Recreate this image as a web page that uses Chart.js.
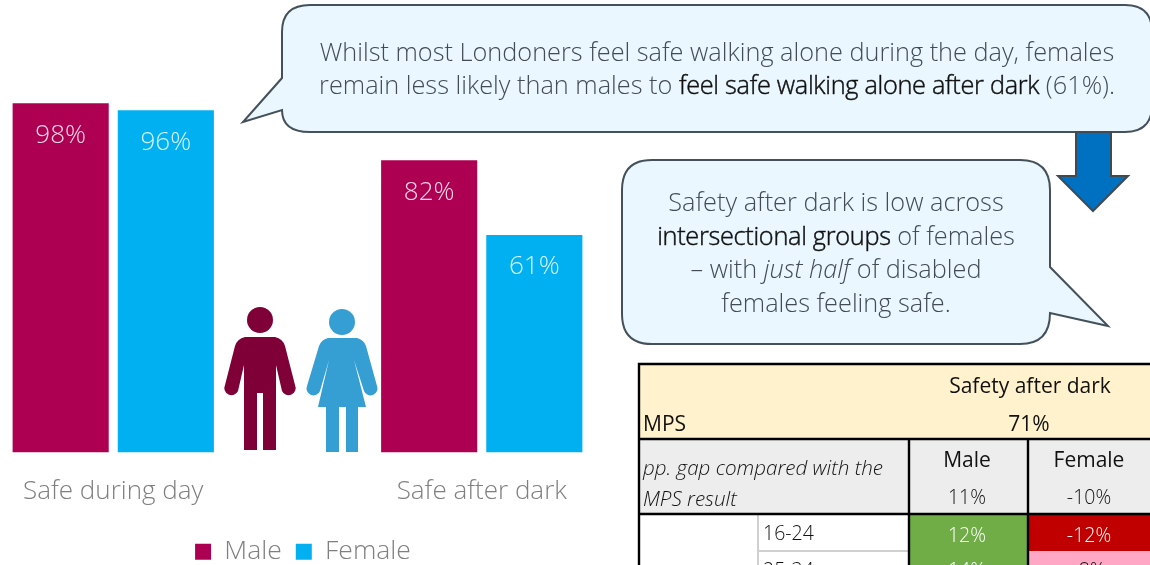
<!DOCTYPE html>
<html>
<head>
<meta charset="utf-8">
<script src="https://cdn.jsdelivr.net/npm/chart.js@4/dist/chart.umd.min.js"></script>
<style>
    html, body { margin: 0; padding: 0; width: 1150px; height: 565px; overflow: hidden; background: #fff; }
    #chartBox { position: absolute; left: -71px; top: 0; width: 748px; height: 575px; }
    svg { position: absolute; left: 0; top: 0; }
    svg text { font-family: "Open Sans", sans-serif; }
    .note { font-size: 25.3px; font-weight: 300; fill: #434c55; text-anchor: middle; }
    .note tspan.strong { fill: #111; stroke: #111; stroke-width: 0.45px; letter-spacing: -0.3px; }
    .cell { font-size: 21px; fill: #111; text-anchor: middle; font-weight: 400; }
    .soft { font-size: 19.5px; font-weight: 300; }
    .pp { font-size: 20.6px; font-weight: 300; font-style: italic; text-anchor: start; }
</style>
</head>
<body>
<div id="chartBox"><canvas id="myChart"></canvas></div>
<svg width="1150" height="565" xmlns="http://www.w3.org/2000/svg">
    <!-- figures -->
    <g fill="#7f0037">
        <circle cx="260" cy="320" r="13"/>
        <path d="M245 337 L275 337 Q283 339 285 346 L295 385 A6.5 6.5 0 0 1 282 391 L276 365 L276 450 L263 450 L263 393 L257 393 L257 450 L244 450 L244 365 L238 391 A6.5 6.5 0 0 1 225 385 L235 346 Q237 339 245 337 Z"/>
    </g>
    <g fill="#359fd3">
        <circle cx="342" cy="322" r="13"/>
        <path d="M328 338 L357 338 Q364 340 366 346 L377 386 A6.5 6.5 0 0 1 364 391 L354 360 L366 407 L358 407 L358 452 L346 452 L346 407 L339 407 L339 452 L326 452 L326 407 L318 407 L329 360 L320 391 A6.5 6.5 0 0 1 307 386 L319 346 Q321 340 328 338 Z"/>
    </g>
    <!-- callouts -->
    <path d="M310 5 H1125 Q1152 5 1152 32 V105 Q1152 132 1125 132 H310 Q282 132 282 110 L243 122 L282 78 V32 Q282 5 310 5 Z" fill="#eaf7fe" stroke="#44505a" stroke-width="2"/>
    <text class="note" x="717" y="61">Whilst most Londoners feel safe walking alone during the day, females</text>
    <text class="note" x="717" y="94">remain less likely than males to <tspan class="strong">feel safe walking alone after dark</tspan> (61%).</text>
    <path d="M1076 132 H1111 V176 H1128 L1093 211 L1058 176 H1076 Z" fill="#0070c0" stroke="#404a52" stroke-width="2"/>
    <path d="M652 160 H1020 Q1050 160 1050 190 V267 L1108 326 L1050 313 Q1050 344 1020 344 H652 Q622 344 622 314 V190 Q622 160 652 160 Z" fill="#eaf7fe" stroke="#44505a" stroke-width="2"/>
    <text class="note" x="836" y="211">Safety after dark is low across</text>
    <text class="note" x="836" y="245"><tspan class="strong">intersectional groups</tspan> of females</text>
    <text class="note" x="836" y="278">– with <tspan font-style="italic">just half</tspan> of disabled</text>
    <text class="note" x="836" y="312">females feeling safe.</text>
    <!-- table -->
    <rect x="639" y="364" width="512" height="75" fill="#fff2cc"/>
    <rect x="639" y="439" width="512" height="75" fill="#ededed"/>
    <rect x="639" y="514" width="512" height="52" fill="#fff"/>
    <rect x="909" y="514" width="119" height="52" fill="#70ad47"/>
    <rect x="1028" y="514" width="123" height="37" fill="#c00000"/>
    <rect x="1028" y="551" width="123" height="15" fill="#ffa7c4"/>
    <path d="M758 514 V566 M758 551 H909" stroke="#d0d0d0" stroke-width="2" fill="none"/>
    <path d="M639 566 V364 H1151 M639 439 H1151 M639 514 H1151 M909 439 V566 M1028 439 V566" stroke="#000" stroke-width="2.4" fill="none"/>
    <text class="cell" x="1030" y="393">Safety after dark</text>
    <text class="cell" x="643" y="431" style="text-anchor:start">MPS</text>
    <text class="cell" x="1029" y="431">71%</text>
    <text class="cell" x="967" y="467">Male</text>
    <text class="cell" x="1089" y="467">Female</text>
    <text class="cell pp" x="643" y="475">pp. gap compared with the</text>
    <text class="cell pp" x="643" y="506">MPS result</text>
    <text class="cell soft" x="967" y="504">11%</text>
    <text class="cell soft" x="1089" y="504">-10%</text>
    <text class="cell soft" x="763" y="540" style="text-anchor:start">16-24</text>
    <text class="cell soft" x="967" y="542" style="fill:#fff">12%</text>
    <text class="cell soft" x="1089" y="542" style="fill:#fff">-12%</text>
    <text class="cell soft" x="763" y="577" style="text-anchor:start">25-34</text>
    <text class="cell soft" x="967" y="577" style="fill:#fff">14%</text>
    <text class="cell soft" x="1089" y="577">-8%</text>
</svg>
<script>
const categories = ['Safe during day', 'Safe after dark'];
const maleValues = [98, 82];
const femaleValues = [96, 61];

// values written inside the top of each bar
const barLabels = {
    id: 'barLabels',
    afterDatasetsDraw(chart) {
        const { ctx } = chart;
        ctx.save();
        ctx.font = '300 26px "Open Sans"';
        ctx.fillStyle = 'rgba(255, 255, 255, 0.85)';
        ctx.textAlign = 'center';
        ctx.textBaseline = 'middle';
        chart.data.datasets.forEach((ds, i) => {
            chart.getDatasetMeta(i).data.forEach((bar, j) => {
                ctx.fillText(ds.data[j] + '%', bar.x, bar.y + 32);
            });
        });
        ctx.restore();
    }
};

const ctx = document.getElementById('myChart');
const myChart = new Chart(ctx, {
    type: 'bar',
    plugins: [barLabels],
    data: {
        labels: categories,
        datasets: [
            { label: 'Male', data: maleValues, backgroundColor: '#ae0053' },
            { label: 'Female', data: femaleValues, backgroundColor: '#00b0f0' }
        ]
    },
    options: {
        responsive: true,
        maintainAspectRatio: false,
        animation: false,
        layout: { padding: { top: 96 } },
        datasets: { bar: { categoryPercentage: 0.5707, barPercentage: 0.914 } },
        plugins: {
            tooltip: { enabled: false },
            legend: {
                position: 'bottom',
                labels: {
                    boxWidth: 16,
                    boxHeight: 16,
                    padding: 14,
                    color: '#7f7f7f',
                    font: { family: 'Open Sans', size: 26.5, weight: '300' }
                }
            }
        },
        scales: {
            x: {
                grid: { display: false },
                border: { display: false },
                ticks: { color: '#7f7f7f', padding: 15, font: { family: 'Open Sans', size: 26, weight: '300' } },
                afterFit(scale) { scale.height = 72; }
            },
            y: {
                position: 'right',
                min: 0,
                max: 100,
                grid: { display: false },
                border: { display: false },
                ticks: { display: false },
                afterFit(scale) { scale.width = 11; }
            }
        }
    }
});
</script>
</body>
</html>
